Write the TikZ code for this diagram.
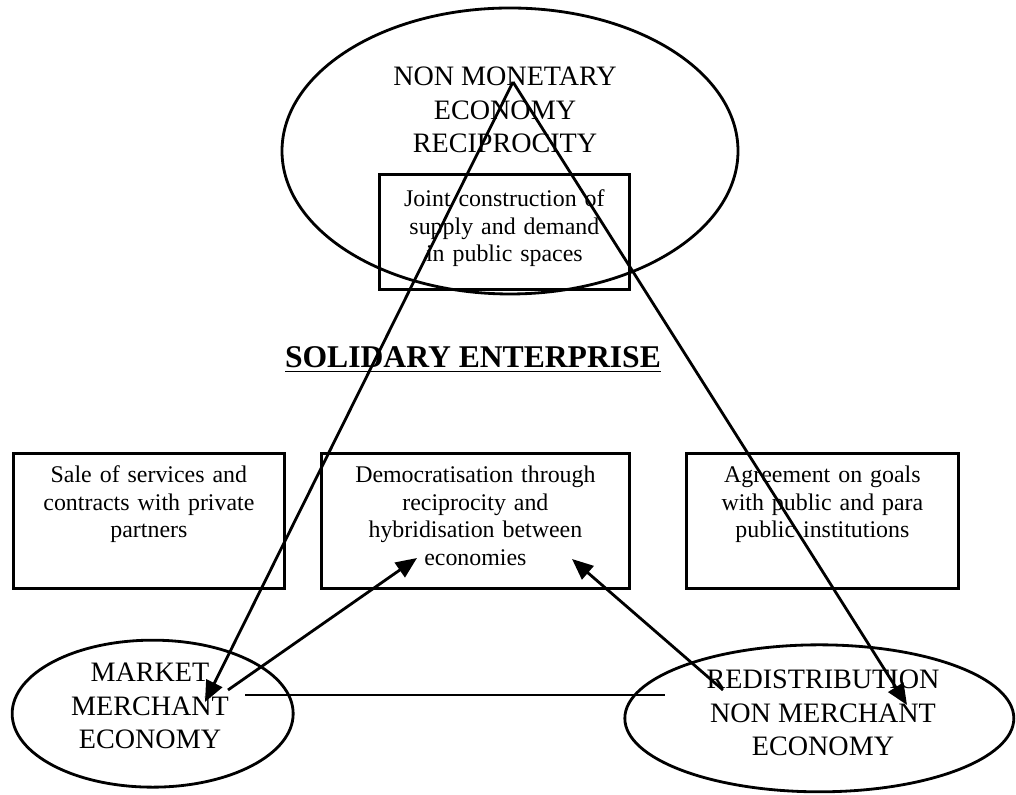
\documentclass[tikz,border=0pt]{standalone}
\usepackage{fontspec}
\setmainfont{Liberation Serif}
\usepackage{tikz}
\usetikzlibrary{shapes.geometric,arrows.meta}

\begin{document}
\begin{tikzpicture}[line width=1.2pt,
	econ/.style={draw, ellipse, inner sep=0pt},
	econtext/.style={align=center, font=\fontsize{12}{14.3}\selectfont},
	goalbox/.style={draw, anchor=north west, inner sep=0pt, align=center,
		font=\fontsize{10.2}{11.8}\selectfont, text height=0.435cm, text depth=1.59cm},
	arr/.style={-{Triangle[length=9pt,width=7.5pt]}}]
	
	\useasboundingbox (0,0) rectangle (15.24,11.925);
	
	% the three economies
	\node[econ, minimum width=6.84cm, minimum height=4.29cm] (recip) at (7.65,9.66) {};
	\node[econ, minimum width=4.215cm, minimum height=2.205cm] (market) at (2.29,1.22) {};
	\node[econ, minimum width=5.835cm, minimum height=2.205cm] (redist) at (12.29,1.15) {};
	\node[econtext] (reciptext) at (7.575,10.275) {NON MONETARY\\ ECONOMY\\ RECIPROCITY};
	\node[econtext] (markettext) at (2.25,1.335) {MARKET\\ MERCHANT\\ ECONOMY};
	\node[econtext] (redisttext) at (12.345,1.23) {REDISTRIBUTION\\ NON MERCHANT\\ ECONOMY};
	
	% boxes
	\node[goalbox, text width=3.75cm, text height=0.48cm, text depth=1.245cm] (joint) at (5.67,9.33)
		{Joint construction of\\ supply and demand\\ in public spaces};
	\node[goalbox, text width=4.065cm] (sale) at (0.18,5.145)
		{Sale of services and\\ contracts with private\\ partners};
	\node[goalbox, text width=4.62cm] (hybrid) at (4.8,5.145)
		{Democratisation through\\ reciprocity and\\ hybridisation between\\ economies};
	\node[goalbox, text width=4.08cm] (agree) at (10.275,5.145)
		{Agreement on goals\\ with public and para\\ public institutions};
	
	\node[anchor=base, font=\fontsize{13.5}{16}\selectfont\bfseries] (title) at (7.095,6.405)
		{\underline{SOLIDARY ENTERPRISE}};
	
	% connectors
	\coordinate (apex) at (7.695,10.695);
	\coordinate (markettip) at (3.075,1.395);
	\coordinate (redisttip) at (13.605,1.35);
	\coordinate (marketfoot) at (3.42,1.575);
	\coordinate (redistfoot) at (10.845,1.575);
	\coordinate (hybridleft) at (6.255,3.555);
	\coordinate (hybridright) at (8.58,3.54);
	\coordinate (linkleft) at (3.675,1.5);
	\coordinate (linkright) at (9.975,1.5);
	
	\draw[arr] (apex) -- (markettip);
	\draw[arr] (apex) -- (redisttip);
	\draw[arr] (marketfoot) -- (hybridleft);
	\draw[arr] (redistfoot) -- (hybridright);
	\draw (linkleft) -- (linkright);
	
\end{tikzpicture}
\end{document}
